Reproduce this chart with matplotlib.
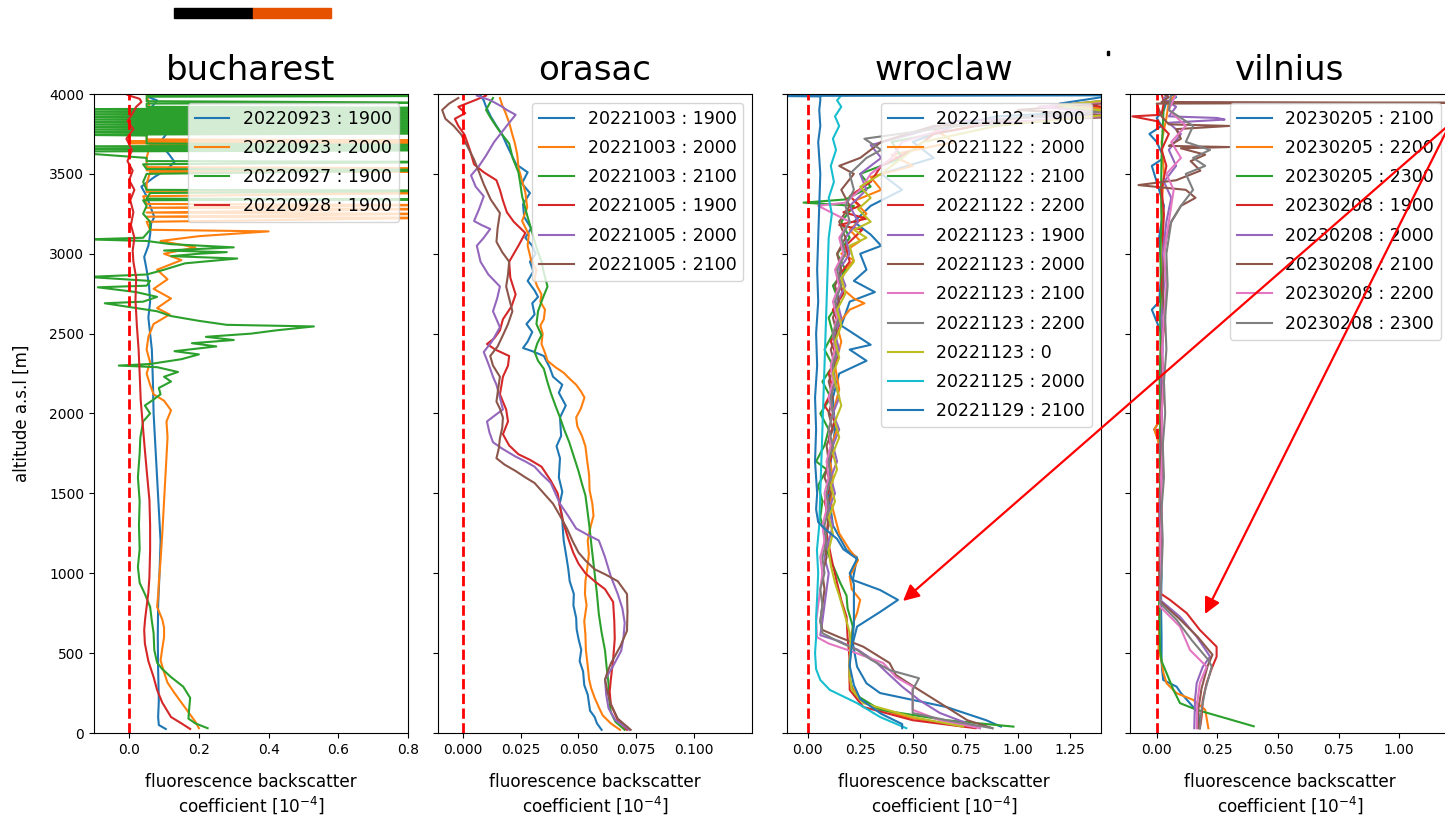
import matplotlib
matplotlib.use('Agg')
import matplotlib.pyplot as plt
import numpy as np
from matplotlib.patches import Rectangle, FancyArrowPatch

# ---------------- data: (altitude [m], backscatter) pairs ----------------

## bucharest
buc_labels = ['20220923 : 1900', '20220923 : 2000', '20220927 : 1900', '20220928 : 1900']

buc_0923_1900 = [(25, 0.105), (50, 0.085), (100, 0.083), (200, 0.085), (400, 0.083), (600, 0.082),
                 (800, 0.083), (1000, 0.087), (1200, 0.09), (1400, 0.085), (1600, 0.08), (1800, 0.075),
                 (2000, 0.07), (2200, 0.068), (2400, 0.065), (2500, 0.06), (2600, 0.055), (2700, 0.06),
                 (2800, 0.057), (2900, 0.05), (2980, 0.043), (3050, 0.055), (3120, 0.06), (3190, 0.063),
                 (3230, 0.072), (3300, 0.06), (3360, 0.05), (3420, 0.035), (3480, 0.072), (3530, 0.11),
                 (3575, 0.13), (3620, 0.115), (3660, 0.1), (3710, 0.093), (3760, 0.11), (3820, 0.09),
                 (3870, 0.1), (3920, 0.065), (3960, 0.08), (3980, 0.055), (4000, 0.09)]

buc_0923_2000 = [(30, 0.2), (70, 0.19), (130, 0.17), (190, 0.15), (250, 0.13), (315, 0.11), (380, 0.1),
                 (455, 0.09), (530, 0.095), (600, 0.1), (660, 0.1), (710, 0.095), (790, 0.08), (860, 0.083),
                 (940, 0.085), (1080, 0.09), (1250, 0.095), (1450, 0.1), (1650, 0.105), (1850, 0.11),
                 (1950, 0.107), (2020, 0.12), (2080, 0.1), (2120, 0.07), (2180, 0.06), (2250, 0.05),
                 (2320, 0.06), (2400, 0.05), (2480, 0.055), (2560, 0.07), (2620, 0.116), (2660, 0.08),
                 (2720, 0.12), (2780, 0.07), (2840, 0.11), (2900, 0.08), (2960, 0.15), (3000, 0.1),
                 (3040, 0.19), (3080, 0.09), (3110, 0.2), (3140, 0.4), (3150, 0.06), (3200, 0.05),
                 (3225, 0.9), (3232, 0.05), (3250, 0.9), (3258, 0.05), (3280, 0.9), (3288, 0.05),
                 (3305, 0.9), (3312, 0.05), (3360, 0.04), (3380, 0.9), (3386, 0.05), (3440, 0.05),
                 (3510, 0.06), (3515, 0.9), (3522, 0.05), (3535, 0.9), (3542, 0.05), (3600, 0.05),
                 (3680, 0.06), (3686, 0.9), (3692, 0.0), (3698, 0.9), (3704, 0.0), (3710, 0.9),
                 (3716, 0.05), (3800, 0.05), (3900, 0.06), (4000, 0.05)]

buc_0927_1900 = [(30, 0.225), (60, 0.19), (90, 0.17), (150, 0.172), (220, 0.175), (290, 0.155), (350, 0.12),
                 (400, 0.095), (440, 0.08), (520, 0.072), (625, 0.07), (700, 0.065), (790, 0.06), (870, 0.045),
                 (940, 0.03), (1040, 0.025), (1150, 0.03), (1300, 0.028), (1450, 0.03), (1600, 0.025),
                 (1750, 0.03), (1850, 0.032), (1950, 0.04), (2000, 0.06), (2050, 0.045), (2080, 0.065),
                 (2120, 0.09), (2160, 0.085), (2200, 0.12), (2230, 0.1), (2260, 0.14), (2290, 0.08),
                 (2300, -0.03), (2310, 0.06), (2340, 0.15), (2370, 0.2), (2390, 0.13), (2420, 0.25),
                 (2440, 0.18), (2460, 0.3), (2480, 0.22), (2500, 0.35), (2520, 0.42), (2545, 0.53),
                 (2555, 0.28), (2580, 0.2), (2610, 0.12), (2640, 0.08), (2660, 0.02), (2690, -0.07),
                 (2700, 0.04), (2730, 0.08), (2760, 0.02), (2790, -0.09), (2800, 0.05), (2830, 0.06),
                 (2855, -0.12), (2870, 0.05), (2900, 0.1), (2940, 0.16), (2970, 0.31), (2985, 0.12),
                 (3000, 0.2), (3010, 0.28), (3020, 0.1), (3040, 0.3), (3060, 0.12), (3080, 0.05),
                 (3090, -0.12), (3100, 0.04), (3150, 0.06), (3200, 0.06), (3250, 0.04), (3300, 0.05),
                 (3335, 0.04), (3340, 1.0), (3345, 0.05), (3380, 0.06), (3395, 1.0), (3400, 0.05),
                 (3450, 0.04), (3500, 0.05), (3525, 1.0), (3530, 0.05), (3560, 0.04), (3575, 1.0),
                 (3580, 0.05), (3600, 0.05), (3640, -0.2), (3648, 1.0), (3656, -0.2), (3664, 1.0),
                 (3672, -0.2), (3680, 1.0), (3690, 0.05), (3740, 0.05), (3745, -0.2), (3753, 1.0),
                 (3761, -0.2), (3769, 1.0), (3777, -0.2), (3785, 1.0), (3793, -0.2), (3801, 1.0),
                 (3809, -0.2), (3817, 1.0), (3825, -0.2), (3833, 1.0), (3841, -0.2), (3849, 1.0),
                 (3857, -0.2), (3865, 1.0), (3873, -0.2), (3881, 1.0), (3889, -0.2), (3897, 1.0),
                 (3905, -0.2), (3913, 1.0), (3920, 0.05), (3940, 0.05), (3945, 1.0), (3955, 0.05),
                 (3983, 0.05), (3988, 1.0), (3993, 0.05), (4000, 0.05)]

buc_0928_1900 = [(25, 0.175), (60, 0.15), (100, 0.12), (190, 0.095), (270, 0.08), (350, 0.07), (450, 0.055),
                 (560, 0.045), (645, 0.043), (720, 0.046), (790, 0.05), (880, 0.055), (975, 0.058),
                 (1145, 0.06), (1300, 0.06), (1460, 0.058), (1600, 0.052), (1770, 0.045), (1900, 0.04),
                 (2085, 0.033), (2250, 0.03), (2400, 0.027), (2550, 0.022), (2710, 0.018), (2850, 0.02),
                 (2950, 0.012), (3020, 0.01), (3100, 0.015), (3180, 0.005), (3260, 0.012), (3335, 0.003),
                 (3400, 0.015), (3460, 0.0), (3520, 0.01), (3580, -0.005), (3650, 0.008), (3720, -0.008),
                 (3780, 0.012), (3830, -0.005), (3880, 0.01), (3920, 0.02), (3950, 0.035), (3970, 0.03),
                 (3990, 0.0), (4000, -0.01)]

## orasac
ora_labels = ['20221003 : 1900', '20221003 : 2000', '20221003 : 2100',
              '20221005 : 1900', '20221005 : 2000', '20221005 : 2100']

ora_1003_1900 = [(20, 0.060), (60, 0.058), (100, 0.057), (140, 0.055), (180, 0.0546), (240, 0.054),
                 (300, 0.0525), (385, 0.052), (450, 0.0505), (520, 0.0512), (590, 0.050), (650, 0.0492),
                 (720, 0.049), (800, 0.0478), (870, 0.048), (950, 0.0462), (1025, 0.0456), (1100, 0.0448),
                 (1205, 0.0436), (1280, 0.0432), (1360, 0.0429), (1430, 0.0418), (1510, 0.043), (1600, 0.0415),
                 (1720, 0.042), (1795, 0.0405), (1860, 0.0425), (1975, 0.042), (2050, 0.0445), (2130, 0.0415),
                 (2180, 0.043), (2230, 0.039), (2290, 0.0375), (2360, 0.035), (2390, 0.030), (2410, 0.026),
                 (2450, 0.028), (2510, 0.030), (2560, 0.0275), (2620, 0.031), (2690, 0.030), (2730, 0.0325),
                 (2770, 0.031), (2830, 0.028), (2890, 0.0305), (2950, 0.029), (3000, 0.0315), (3050, 0.030),
                 (3100, 0.027), (3160, 0.0295), (3230, 0.0265), (3310, 0.026), (3380, 0.029), (3440, 0.0255),
                 (3510, 0.028), (3560, 0.023), (3620, 0.021), (3680, 0.019), (3745, 0.017), (3800, 0.0145),
                 (3860, 0.012), (3920, 0.010), (3960, 0.009), (3990, 0.0076)]
ora_1003_2000 = [(20, 0.068), (60, 0.064), (110, 0.0605), (155, 0.059), (220, 0.057), (280, 0.0555),
                 (335, 0.0546), (420, 0.054), (520, 0.0532), (615, 0.053), (700, 0.0525), (800, 0.0535),
                 (870, 0.0528), (950, 0.053), (1030, 0.0538), (1120, 0.0545), (1205, 0.054), (1290, 0.0552),
                 (1360, 0.0565), (1435, 0.056), (1520, 0.0548), (1615, 0.0546), (1700, 0.0538), (1795, 0.053),
                 (1860, 0.0515), (1920, 0.0495), (1975, 0.049), (2030, 0.051), (2100, 0.0526), (2140, 0.051),
                 (2180, 0.049), (2220, 0.046), (2255, 0.0436), (2290, 0.040), (2330, 0.0366), (2380, 0.0355),
                 (2435, 0.034), (2500, 0.0345), (2550, 0.0335), (2590, 0.035), (2650, 0.0355), (2700, 0.0335),
                 (2745, 0.034), (2800, 0.032), (2845, 0.031), (2900, 0.0318), (2960, 0.0295), (3050, 0.028),
                 (3120, 0.0285), (3205, 0.0256), (3290, 0.0278), (3385, 0.027), (3460, 0.0255), (3540, 0.024),
                 (3620, 0.0235), (3690, 0.0225), (3745, 0.0214), (3820, 0.020), (3880, 0.0185), (3930, 0.017),
                 (3975, 0.016)]
ora_1003_2100 = [(20, 0.070), (70, 0.066), (130, 0.064), (220, 0.0632), (310, 0.063), (410, 0.0622),
                 (515, 0.0615), (630, 0.060), (745, 0.0588), (870, 0.058), (1000, 0.057), (1150, 0.0558),
                 (1308, 0.0546), (1400, 0.0538), (1487, 0.053), (1560, 0.0515), (1640, 0.050), (1730, 0.048),
                 (1820, 0.046), (1900, 0.0438), (1975, 0.042), (2050, 0.040), (2130, 0.038), (2200, 0.0365),
                 (2280, 0.035), (2330, 0.0325), (2385, 0.031), (2440, 0.0322), (2490, 0.034), (2560, 0.0318),
                 (2640, 0.0325), (2720, 0.0345), (2795, 0.0366), (2870, 0.0352), (2950, 0.034), (3040, 0.0318),
                 (3130, 0.030), (3240, 0.0278), (3360, 0.0256), (3440, 0.0248), (3510, 0.024), (3600, 0.0215),
                 (3690, 0.020), (3745, 0.017), (3795, 0.0145), (3850, 0.012), (3900, 0.010), (3940, 0.0115),
                 (3975, 0.013)]
ora_1005_1900 = [(20, 0.071), (80, 0.067), (180, 0.064), (260, 0.0635), (335, 0.064), (460, 0.065),
                 (590, 0.0657), (700, 0.0655), (820, 0.065), (900, 0.0615), (950, 0.057), (1000, 0.053),
                 (1060, 0.050), (1130, 0.0477), (1220, 0.0455), (1308, 0.0436), (1400, 0.0422), (1500, 0.041),
                 (1580, 0.038), (1667, 0.034), (1710, 0.029), (1745, 0.024), (1800, 0.020), (1870, 0.0173),
                 (1950, 0.0195), (2025, 0.0187), (2120, 0.016), (2230, 0.0173), (2300, 0.0195), (2360, 0.020),
                 (2400, 0.014), (2435, 0.0104), (2470, 0.0135), (2520, 0.016), (2590, 0.0173), (2670, 0.021),
                 (2745, 0.0228), (2850, 0.0205), (2950, 0.020), (3050, 0.024), (3130, 0.027), (3200, 0.022),
                 (3260, 0.019), (3333, 0.0173), (3400, 0.016), (3460, 0.0145), (3510, 0.009), (3560, 0.0048),
                 (3650, 0.003), (3745, 0.0007), (3800, -0.002), (3845, -0.0035), (3880, 0.001),
                 (3920, -0.002), (3960, 0.005), (3990, 0.010)]
ora_1005_2000 = [(20, 0.072), (80, 0.066), (155, 0.063), (240, 0.062), (335, 0.0615), (420, 0.065),
                 (515, 0.0685), (600, 0.0695), (690, 0.070), (780, 0.069), (870, 0.067), (980, 0.064),
                 (1100, 0.0615), (1160, 0.060), (1205, 0.0588), (1240, 0.054), (1280, 0.049), (1360, 0.0455),
                 (1435, 0.042), (1500, 0.040), (1565, 0.038), (1620, 0.034), (1667, 0.031), (1700, 0.027),
                 (1730, 0.0228), (1780, 0.017), (1820, 0.013), (1880, 0.0115), (1950, 0.0104), (1990, 0.014),
                 (2025, 0.0173), (2100, 0.016), (2180, 0.0145), (2230, 0.013), (2280, 0.0118), (2330, 0.0105),
                 (2385, 0.009), (2450, 0.0125), (2540, 0.016), (2590, 0.0145), (2640, 0.013), (2720, 0.0148),
                 (2795, 0.016), (2870, 0.011), (2950, 0.0076), (3000, 0.0068), (3050, 0.006), (3100, 0.009),
                 (3155, 0.0118), (3180, 0.008), (3205, 0.0048), (3280, 0.007), (3360, 0.009), (3420, 0.0055),
                 (3490, 0.0035), (3550, 0.007), (3615, 0.010), (3700, 0.0135), (3770, 0.0173), (3820, 0.020),
                 (3870, 0.0228), (3900, 0.019), (3920, 0.017), (3960, 0.012), (3990, 0.006)]
ora_1005_2100 = [(20, 0.0726), (90, 0.067), (180, 0.064), (260, 0.0625), (335, 0.0615), (380, 0.0625),
                 (435, 0.064), (540, 0.068), (640, 0.071), (760, 0.0712), (870, 0.071), (950, 0.067),
                 (990, 0.062), (1025, 0.057), (1080, 0.053), (1130, 0.050), (1200, 0.0475), (1280, 0.045),
                 (1360, 0.042), (1435, 0.039), (1500, 0.035), (1565, 0.031), (1600, 0.027), (1640, 0.0228),
                 (1680, 0.018), (1720, 0.0145), (1780, 0.0155), (1845, 0.016), (1910, 0.017), (1975, 0.0173),
                 (2030, 0.016), (2075, 0.0145), (2150, 0.0152), (2230, 0.016), (2300, 0.013), (2360, 0.0118),
                 (2420, 0.015), (2490, 0.0173), (2560, 0.0195), (2640, 0.0214), (2720, 0.020), (2795, 0.0187),
                 (2870, 0.0195), (2950, 0.020), (3010, 0.017), (3075, 0.0145), (3160, 0.015), (3255, 0.016),
                 (3340, 0.012), (3435, 0.009), (3510, 0.007), (3590, 0.0048), (3670, 0.002), (3745, -0.0007),
                 (3800, -0.004), (3845, -0.0076), (3900, -0.009), (3940, -0.006), (3975, -0.002)]

## wroclaw
wro_labels = ['20221122 : 1900', '20221122 : 2000', '20221122 : 2100', '20221122 : 2200',
              '20221123 : 1900', '20221123 : 2000', '20221123 : 2100', '20221123 : 2200',
              '20221123 : 0', '20221125 : 2000', '20221129 : 2100']

wro_1122_1900 = [(40, 0.92), (80, 0.85), (163, 0.66), (250, 0.345), (311, 0.28), (415, 0.235), (562, 0.215),
                 (666, 0.235), (758, 0.345), (833, 0.43), (895, 0.345), (958, 0.215), (1100, 0.235),
                 (1145, 0.185), (1300, 0.12), (1500, 0.1), (1700, 0.11), (1900, 0.13), (2100, 0.12),
                 (2250, 0.15), (2330, 0.28), (2400, 0.2), (2430, 0.3), (2550, 0.16), (2700, 0.2),
                 (2760, 0.32), (2830, 0.22), (2900, 0.28), (3000, 0.25), (3050, 0.35), (3120, 0.3),
                 (3200, 0.22), (3300, 0.3), (3400, 0.45), (3500, 0.35), (3600, 0.6), (3700, 0.5),
                 (3800, 0.7), (3860, 0.9), (3900, 1.5), (3940, 1.2), (4000, 1.5)]
wro_1122_2000 = [(40, 0.74), (100, 0.47), (160, 0.32), (207, 0.25), (313, 0.2), (438, 0.2), (530, 0.205),
                 (625, 0.21), (700, 0.22), (750, 0.235), (833, 0.25), (900, 0.21), (980, 0.2), (1030, 0.22),
                 (1083, 0.24), (1145, 0.2), (1250, 0.15), (1350, 0.13), (1450, 0.11), (1600, 0.12),
                 (1750, 0.1), (1900, 0.14), (2000, 0.12), (2150, 0.15), (2300, 0.13), (2450, 0.16),
                 (2550, 0.14), (2650, 0.2), (2690, 0.27), (2720, 0.22), (2800, 0.15), (2900, 0.18),
                 (2960, 0.22), (3000, 0.16), (3080, 0.25), (3150, 0.2), (3250, 0.28), (3330, 0.22),
                 (3400, 0.35), (3480, 0.3), (3550, 0.5), (3620, 0.4), (3700, 0.7), (3780, 0.6),
                 (3850, 1.0), (3900, 1.5), (3930, 1.2), (3960, 1.5), (4000, 1.5)]
wro_1122_2100 = [(40, 0.98), (80, 0.66), (145, 0.345), (250, 0.215), (350, 0.2), (457, 0.2), (560, 0.21),
                 (666, 0.215), (780, 0.19), (860, 0.185), (940, 0.155), (1050, 0.12), (1145, 0.09),
                 (1250, 0.08), (1350, 0.06), (1450, 0.07), (1550, 0.05), (1650, 0.09), (1700, 0.04),
                 (1800, 0.08), (1900, 0.1), (2000, 0.06), (2100, 0.11), (2200, 0.07), (2300, 0.12),
                 (2400, 0.08), (2500, 0.12), (2600, 0.1), (2700, 0.15), (2800, 0.12), (2900, 0.18),
                 (3000, 0.14), (3100, 0.2), (3200, 0.16), (3300, 0.22), (3320, -0.02), (3340, 0.18),
                 (3420, 0.3), (3500, 0.25), (3600, 0.45), (3700, 0.4), (3800, 0.8), (3880, 1.5),
                 (3920, 1.1), (3960, 1.5), (4000, 1.5)]
wro_1122_2200 = [(30, 0.8), (80, 0.5), (163, 0.265), (270, 0.2), (350, 0.2), (457, 0.2), (600, 0.19),
                 (728, 0.185), (830, 0.16), (940, 0.14), (1050, 0.12), (1145, 0.105), (1250, 0.09),
                 (1350, 0.1), (1450, 0.08), (1550, 0.11), (1650, 0.09), (1750, 0.12), (1850, 0.1),
                 (1950, 0.13), (2050, 0.08), (2150, 0.12), (2250, 0.1), (2350, 0.14), (2450, 0.11),
                 (2550, 0.15), (2650, 0.12), (2750, 0.17), (2850, 0.14), (2950, 0.2), (3050, 0.18),
                 (3150, 0.26), (3180, 0.15), (3220, 0.28), (3260, 0.17), (3300, 0.25), (3360, 0.2),
                 (3450, 0.3), (3550, 0.35), (3650, 0.5), (3750, 0.6), (3850, 1.0), (3900, 1.5),
                 (3940, 1.3), (3970, 1.5), (4000, 1.5)]
wro_1123_1900 = [(30, 0.82), (60, 0.76), (125, 0.63), (207, 0.53), (290, 0.45), (375, 0.38), (450, 0.32),
                 (520, 0.24), (575, 0.15), (612, 0.06), (700, 0.07), (800, 0.08), (900, 0.09), (1000, 0.1),
                 (1100, 0.08), (1200, 0.1), (1300, 0.12), (1400, 0.1), (1500, 0.13), (1600, 0.11),
                 (1700, 0.14), (1800, 0.12), (1900, 0.15), (2000, 0.12), (2100, 0.15), (2200, 0.13),
                 (2300, 0.12), (2400, 0.15), (2500, 0.13), (2600, 0.16), (2700, 0.14), (2800, 0.18),
                 (2900, 0.15), (3000, 0.2), (3100, 0.18), (3200, 0.24), (3300, 0.2), (3400, 0.28),
                 (3500, 0.25), (3600, 0.35), (3680, 0.3), (3750, 0.5), (3830, 0.7), (3880, 1.5),
                 (3930, 1.2), (3970, 1.5), (4000, 1.5)]
wro_1123_2000 = [(30, 0.88), (80, 0.76), (163, 0.66), (270, 0.53), (363, 0.42), (438, 0.39), (540, 0.265),
                 (600, 0.15), (645, 0.07), (700, 0.06), (800, 0.07), (900, 0.08), (1000, 0.07), (1100, 0.09),
                 (1200, 0.08), (1300, 0.1), (1400, 0.09), (1500, 0.11), (1600, 0.08), (1700, 0.1),
                 (1800, 0.09), (1900, 0.12), (2000, 0.1), (2100, 0.12), (2200, 0.1), (2300, 0.13),
                 (2400, 0.11), (2500, 0.14), (2600, 0.12), (2700, 0.15), (2800, 0.13), (2900, 0.16),
                 (3000, 0.14), (3100, 0.18), (3200, 0.15), (3300, 0.2), (3400, 0.16), (3500, 0.22),
                 (3550, 0.15), (3600, 0.25), (3700, 0.35), (3800, 0.6), (3860, 1.5), (3900, 1.0),
                 (3950, 1.5), (4000, 1.5)]
wro_1123_2100 = [(30, 0.82), (80, 0.63), (145, 0.5), (200, 0.5), (290, 0.5), (350, 0.42), (438, 0.36),
                 (520, 0.19), (560, 0.1), (600, 0.044), (700, 0.04), (800, 0.05), (900, 0.06), (1000, 0.07),
                 (1100, 0.06), (1200, 0.08), (1300, 0.07), (1400, 0.09), (1500, 0.08), (1600, 0.1),
                 (1700, 0.09), (1800, 0.11), (1900, 0.1), (2000, 0.12), (2100, 0.1), (2200, 0.12),
                 (2300, 0.11), (2400, 0.13), (2500, 0.12), (2600, 0.14), (2700, 0.12), (2800, 0.15),
                 (2900, 0.13), (3000, 0.17), (3100, 0.15), (3200, 0.2), (3300, 0.05), (3320, 0.18),
                 (3400, 0.25), (3500, 0.3), (3600, 0.4), (3700, 0.45), (3800, 0.7), (3870, 1.5),
                 (3920, 1.1), (3960, 1.5), (4000, 1.5)]
wro_1123_2200 = [(30, 0.88), (80, 0.66), (125, 0.5), (200, 0.5), (270, 0.5), (343, 0.53), (394, 0.39),
                 (460, 0.3), (520, 0.235), (570, 0.15), (625, 0.07), (700, 0.06), (800, 0.07), (900, 0.06),
                 (1000, 0.08), (1100, 0.07), (1200, 0.09), (1300, 0.08), (1400, 0.1), (1500, 0.09),
                 (1600, 0.11), (1700, 0.1), (1800, 0.12), (1900, 0.1), (2000, 0.12), (2100, 0.11),
                 (2200, 0.13), (2300, 0.12), (2400, 0.14), (2500, 0.12), (2600, 0.15), (2700, 0.13),
                 (2800, 0.16), (2900, 0.14), (3000, 0.18), (3100, 0.16), (3200, 0.2), (3300, 0.18),
                 (3400, 0.22), (3500, 0.2), (3600, 0.28), (3650, 0.35), (3720, 0.27), (3780, 0.6),
                 (3850, 1.0), (3900, 1.5), (3950, 1.5), (4000, 1.5)]
wro_1123_0 = [(40, 0.74), (100, 0.5), (187, 0.265), (270, 0.21), (355, 0.2), (450, 0.2), (550, 0.205),
              (625, 0.2), (700, 0.185), (770, 0.17), (860, 0.15), (940, 0.13), (1050, 0.11), (1145, 0.1),
              (1250, 0.12), (1350, 0.1), (1450, 0.13), (1550, 0.11), (1650, 0.14), (1750, 0.12),
              (1850, 0.15), (1950, 0.13), (2050, 0.16), (2150, 0.14), (2250, 0.12), (2350, 0.15),
              (2450, 0.13), (2550, 0.16), (2650, 0.14), (2750, 0.18), (2850, 0.16), (2950, 0.22),
              (3050, 0.2), (3100, 0.28), (3150, 0.22), (3200, 0.3), (3280, 0.24), (3350, 0.3),
              (3420, 0.25), (3500, 0.35), (3600, 0.45), (3700, 0.55), (3800, 0.9), (3880, 1.5),
              (3930, 1.2), (3970, 1.5), (4000, 1.5)]
wro_1125_2000 = [(30, 0.47), (100, 0.345), (187, 0.235), (270, 0.105), (332, 0.06), (400, 0.04), (500, 0.035),
                 (600, 0.04), (728, 0.04), (850, 0.045), (1000, 0.05), (1145, 0.044), (1300, 0.055),
                 (1500, 0.06), (1700, 0.065), (1900, 0.07), (2100, 0.075), (2300, 0.08), (2500, 0.085),
                 (2700, 0.09), (2900, 0.095), (3100, 0.1), (3250, 0.115), (3350, 0.1), (3450, 0.125),
                 (3550, 0.11), (3650, 0.135), (3720, 0.12), (3800, 0.15), (3860, 0.13), (3920, 0.16),
                 (3960, 0.14), (4000, 0.165)]
wro_1129_2100 = [(30, 0.45), (56, 0.45), (120, 0.35), (213, 0.25), (300, 0.22), (420, 0.2), (550, 0.21),
                 (676, 0.22), (800, 0.22), (933, 0.22), (1000, 0.2), (1090, 0.235), (1150, 0.17),
                 (1215, 0.14), (1280, 0.08), (1320, 0.05), (1400, 0.04), (1500, 0.045), (1700, 0.035),
                 (1900, 0.04), (2100, 0.035), (2300, 0.045), (2500, 0.04), (2700, 0.05), (2900, 0.045),
                 (3100, 0.05), (3300, 0.055), (3500, 0.06), (3700, 0.05), (3800, 0.06), (3900, 0.055),
                 (3960, 0.06), (3985, 0.06), (3988, -0.2), (3992, 1.6)]

## vilnius
vil_labels = ['20230205 : 2100', '20230205 : 2200', '20230205 : 2300', '20230208 : 1900',
              '20230208 : 2000', '20230208 : 2100', '20230208 : 2200', '20230208 : 2300']

vil_0205_2100 = [(30, 0.178), (124, 0.172), (186, 0.137), (250, 0.1), (290, 0.082), (332, 0.027), (400, 0.022),
                 (457, 0.02), (600, 0.02), (800, 0.018), (1000, 0.02), (1145, 0.014), (1300, 0.02),
                 (1500, 0.012), (1700, 0.02), (1850, 0.005), (1900, -0.01), (1950, 0.01), (2100, 0.02),
                 (2300, 0.015), (2500, 0.02), (2650, -0.02), (2700, 0.01), (2900, 0.02), (3100, 0.01),
                 (3300, 0.03), (3450, 0.0), (3550, -0.02), (3600, 0.03), (3700, 0.0), (3750, -0.03),
                 (3800, 0.02), (3850, 0.0), (3900, 0.03), (3950, 0.04), (3980, 0.08), (4000, 0.06)]
vil_0205_2200 = [(30, 0.213), (145, 0.2), (207, 0.151), (249, 0.082), (311, 0.041), (380, 0.027), (450, 0.02),
                 (520, 0.007), (650, 0.01), (800, 0.012), (1000, 0.01), (1200, 0.015), (1400, 0.01),
                 (1600, 0.015), (1800, 0.012), (1900, -0.01), (1950, 0.01), (2100, 0.02), (2300, 0.015),
                 (2500, 0.02), (2700, 0.018), (2900, 0.02), (3100, 0.025), (3300, 0.02), (3500, 0.03),
                 (3700, 0.02), (3850, 0.04), (3950, 0.05), (4000, 0.08)]
vil_0205_2300 = [(42, 0.4), (103, 0.261), (145, 0.165), (187, 0.096), (270, 0.069), (374, 0.041), (450, 0.02),
                 (520, 0.014), (650, 0.012), (791, 0.01), (1000, 0.012), (1200, 0.014), (1400, 0.012),
                 (1600, 0.015), (1800, 0.013), (2000, 0.015), (2200, 0.012), (2400, 0.016), (2600, 0.014),
                 (2800, 0.018), (3000, 0.015), (3200, 0.02), (3400, 0.018), (3600, 0.02), (3800, 0.025),
                 (3950, 0.03), (4000, 0.04)]
vil_0208_1900 = [(30, 0.178), (100, 0.185), (207, 0.19), (313, 0.206), (405, 0.227), (478, 0.247), (540, 0.247),
                 (645, 0.178), (750, 0.124), (833, 0.055), (875, 0.014), (1000, 0.015), (1200, 0.02),
                 (1400, 0.015), (1600, 0.02), (1800, 0.025), (2000, 0.02), (2200, 0.03), (2400, 0.02),
                 (2600, 0.035), (2800, 0.02), (2950, 0.03), (3100, 0.025), (3250, 0.03), (3400, 0.02),
                 (3550, 0.04), (3650, 0.02), (3750, 0.05), (3830, 0.0), (3860, -0.1), (3870, 0.02),
                 (3950, 0.03), (4000, 0.02)]
vil_0208_2000 = [(30, 0.155), (207, 0.158), (313, 0.165), (415, 0.19), (478, 0.22), (603, 0.165), (728, 0.096),
                 (833, 0.014), (1000, 0.012), (1200, 0.015), (1400, 0.012), (1600, 0.02), (1800, 0.015),
                 (2000, 0.022), (2200, 0.018), (2400, 0.025), (2600, 0.02), (2800, 0.03), (3000, 0.025),
                 (3200, 0.04), (3350, 0.06), (3450, 0.03), (3550, 0.08), (3650, 0.05), (3750, 0.1),
                 (3820, 0.05), (3840, 0.28), (3850, 0.25), (3860, 0.05), (3920, 0.08), (3970, 0.03),
                 (4000, 0.05)]
vil_0208_2100 = [(30, 0.17), (150, 0.172), (280, 0.185), (420, 0.21), (490, 0.23), (600, 0.17), (720, 0.09),
                 (825, 0.014), (1000, 0.015), (1200, 0.012), (1400, 0.02), (1600, 0.015), (1800, 0.02),
                 (2000, 0.018), (2200, 0.025), (2400, 0.02), (2600, 0.03), (2800, 0.025), (3000, 0.03),
                 (3100, 0.04), (3200, 0.06), (3300, 0.1), (3350, 0.16), (3400, 0.12), (3430, -0.075),
                 (3460, 0.08), (3520, 0.18), (3580, 0.14), (3620, 0.2), (3660, 0.1), (3668, 0.3),
                 (3675, 0.05), (3720, 0.1), (3780, 0.08), (3800, 0.3), (3810, 0.05), (3860, 0.02),
                 (3940, 0.0), (3945, 1.2), (3950, 0.02), (3980, 0.05), (4000, 0.03)]
vil_0208_2200 = [(30, 0.165), (187, 0.167), (313, 0.178), (415, 0.206), (520, 0.137), (666, 0.096), (791, 0.014),
                 (1000, 0.018), (1200, 0.015), (1400, 0.022), (1600, 0.018), (1800, 0.025), (2000, 0.02),
                 (2200, 0.028), (2400, 0.022), (2600, 0.03), (2800, 0.04), (3000, 0.03), (3200, 0.05),
                 (3400, 0.07), (3500, 0.04), (3600, 0.1), (3700, 0.06), (3800, 0.12), (3900, 0.05),
                 (4000, 0.08)]
vil_0208_2300 = [(30, 0.178), (145, 0.185), (270, 0.2), (415, 0.227), (457, 0.213), (582, 0.144), (708, 0.082),
                 (812, 0.014), (1000, 0.02), (1200, 0.025), (1400, 0.02), (1600, 0.03), (1800, 0.025),
                 (2000, 0.035), (2200, 0.03), (2400, 0.04), (2600, 0.035), (2800, 0.045), (3000, 0.04),
                 (3200, 0.06), (3300, 0.1), (3400, 0.15), (3500, 0.12), (3550, 0.2), (3600, 0.15),
                 (3650, 0.22), (3700, 0.12), (3800, 0.15), (3900, 0.05), (4000, 0.06)]

yticks = [0, 500, 1000, 1500, 2000, 2500, 3000, 3500, 4000]

panels = [
    ('bucharest', buc_labels, [buc_0923_1900, buc_0923_2000, buc_0927_1900, buc_0928_1900],
     (-0.101, 0.8), [0.0, 0.2, 0.4, 0.6, 0.8]),
    ('orasac', ora_labels, [ora_1003_1900, ora_1003_2000, ora_1003_2100,
                            ora_1005_1900, ora_1005_2000, ora_1005_2100],
     (-0.0108, 0.1251), [0.0, 0.025, 0.05, 0.075, 0.1]),
    ('wroclaw', wro_labels, [wro_1122_1900, wro_1122_2000, wro_1122_2100, wro_1122_2200,
                             wro_1123_1900, wro_1123_2000, wro_1123_2100, wro_1123_2200,
                             wro_1123_0, wro_1125_2000, wro_1129_2100],
     (-0.0986, 1.397), [0.0, 0.25, 0.5, 0.75, 1.0, 1.25]),
    ('vilnius', vil_labels, [vil_0205_2100, vil_0205_2200, vil_0205_2300, vil_0208_1900,
                             vil_0208_2000, vil_0208_2100, vil_0208_2200, vil_0208_2300],
     (-0.11, 1.209), [0.0, 0.25, 0.5, 0.75, 1.0]),
]

# ---------------- figure ----------------
W, H = 1445, 822
fig = plt.figure(figsize=(W / 100, H / 100), dpi=100)

# axes boxes in pixels: left, width (vilnius runs past the right edge, as in the original crop)
boxes = [(94, 314), (438, 314), (787, 314), (1130, 320)]
bottom_px, top_px = 733, 94

axes = []
for i, (title, labels, profiles, xlim, xticks) in enumerate(panels):
    left, width = boxes[i]
    ax = fig.add_axes([left / W, (H - bottom_px) / H, width / W, (bottom_px - top_px) / H],
                      sharey=axes[0] if axes else None)
    for prof, lab in zip(profiles, labels):
        alt, val = np.array(prof).T
        ax.plot(val, alt, lw=1.5, label=lab)
    ax.axvline(0, color='red', ls='--', lw=2)
    ax.set_xlim(*xlim)
    ax.set_xticks(xticks)
    ax.set_ylim(0, 4000)
    ax.set_yticks(yticks)
    ax.set_title(title, fontsize=24.5, pad=10)
    ax.set_xlabel('fluorescence backscatter\ncoefficient [$10^{-4}$]', fontsize=12.2, labelpad=12)
    ax.tick_params(labelsize=10)
    ax.legend(loc='upper right', fontsize=12.5, labelspacing=0.65)
    if i == 0:
        ax.set_ylabel('altitude a.s.l [m]', fontsize=12, labelpad=13)
    else:
        ax.tick_params(labelleft=False)
    axes.append(ax)

# red arrows pointing at the low-level layers, drawn on top of every panel
arrow_start = (1450 / W, 1 - 124 / H)
for tx, ty in [(903, 601), (1205, 614)]:
    arr = FancyArrowPatch(arrow_start, (tx / W, 1 - ty / H), transform=fig.transFigure,
                          arrowstyle='-|>', color='red', lw=1.6, mutation_scale=24,
                          shrinkA=0, shrinkB=0, zorder=10)
    fig.add_artist(arr)

# colour strip at the top left and the stray mark near the vilnius title
fig.add_artist(Rectangle((174 / W, (H - 18) / H), 79 / W, 10 / H, transform=fig.transFigure,
                         color='black'))
fig.add_artist(Rectangle((253 / W, (H - 18) / H), 78 / W, 10 / H, transform=fig.transFigure,
                         color='#e65100'))
fig.add_artist(Rectangle((1107 / W, (H - 55) / H), 2 / W, 4 / H, transform=fig.transFigure,
                         color='black'))

fig.savefig('out.png', dpi=100)
